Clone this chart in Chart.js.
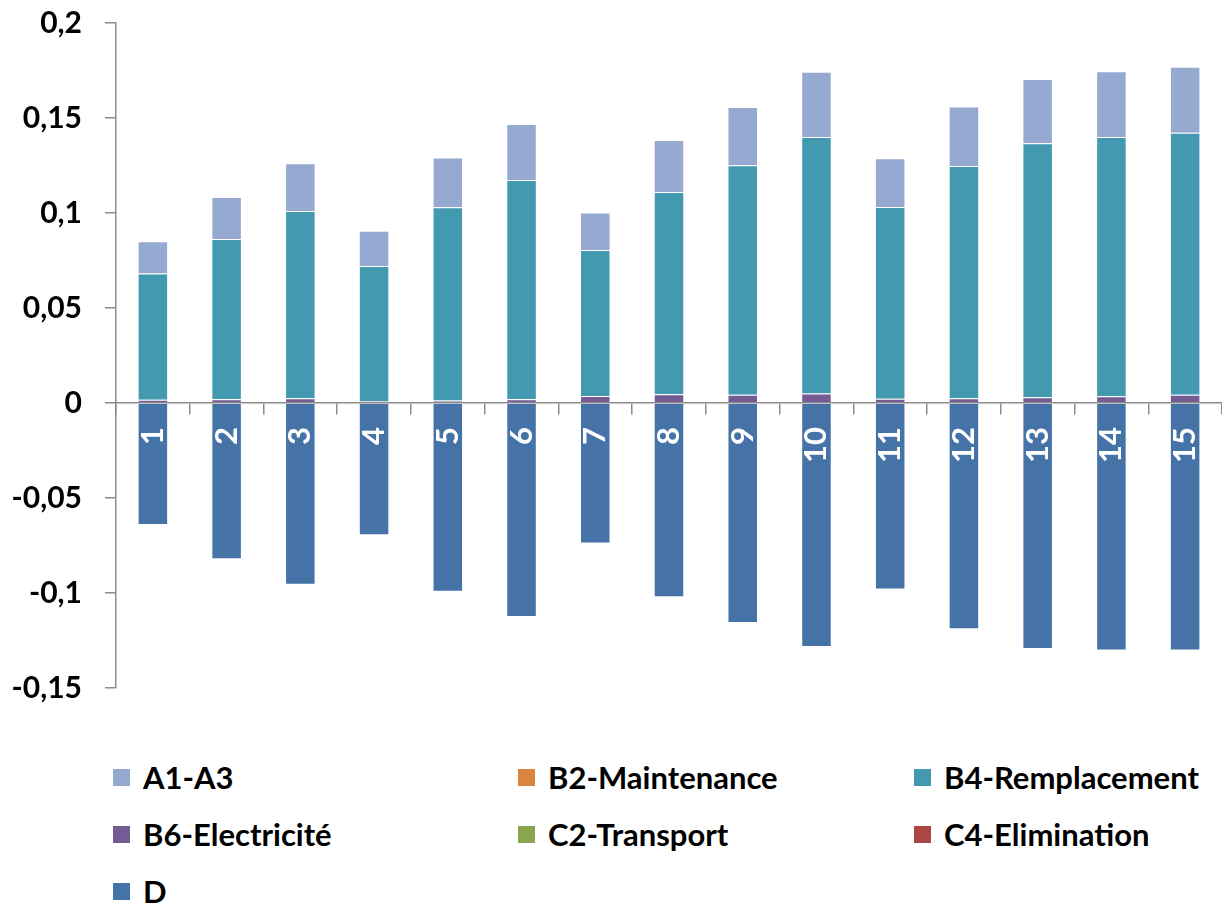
<!DOCTYPE html>
<html>
<head>
<meta charset="utf-8">
<script src="https://cdn.jsdelivr.net/npm/chart.js@4.4.0/dist/chart.umd.min.js"></script>
<style>
  html, body { margin: 0; padding: 0; background: #fff; }
  #wrap { position: relative; width: 1222px; height: 904px; overflow: hidden; }
  #c { position: absolute; left: 0; top: 0; }
  #legend {
    position: absolute; left: 113px; top: 757px;
    display: grid; grid-template-columns: 405px 396px 300px; grid-auto-rows: 57px;
    font: bold 31px Lato, sans-serif; color: #000;
  }
  .item { display: flex; align-items: center; height: 40px; white-space: nowrap; }
  .sw { width: 17px; height: 17px; margin-right: 13px; flex: none; }
</style>
</head>
<body>
<div id="wrap">
  <canvas id="c" width="1222" height="740"></canvas>
  <div id="legend"></div>
</div>
<script>
// Categories (scenarios 1..15)
const categories = ['1','2','3','4','5','6','7','8','9','10','11','12','13','14','15'];

// Impact per life-cycle module
const a1a3         = [0.0170, 0.0221, 0.0251, 0.0186, 0.0262, 0.0294, 0.0197, 0.0273, 0.0307, 0.0344, 0.0256, 0.0313, 0.0338, 0.0346, 0.0347];
const b2Maint      = [0, 0, 0, 0, 0, 0, 0, 0, 0, 0, 0, 0, 0, 0, 0];
const b4Rempl      = [0.0664, 0.0843, 0.0986, 0.0711, 0.1017, 0.1154, 0.0768, 0.1065, 0.1207, 0.1350, 0.1009, 0.1222, 0.1337, 0.1365, 0.1379];
const b6Elec       = [0.0017, 0.0020, 0.0025, 0.0010, 0.0013, 0.0020, 0.0037, 0.0046, 0.0044, 0.0050, 0.0023, 0.0025, 0.0030, 0.0035, 0.0044];
const c2Transport  = [0, 0, 0, 0, 0, 0, 0, 0, 0, 0, 0, 0, 0, 0, 0];
const c4Elim       = [0, 0, 0, 0, 0, 0, 0, 0, 0, 0, 0, 0, 0, 0, 0];
const dBenefits    = [-0.0642, -0.0823, -0.0956, -0.0696, -0.0994, -0.1126, -0.0740, -0.1022, -0.1158, -0.1284, -0.0981, -0.1191, -0.1295, -0.1303, -0.1302];

// Y axis range
const yMin = -0.15, yMax = 0.2, yStep = 0.05;

// Series: label, data, colour; listed bottom-to-top for stacking
const series = [
  { label: 'B6-Electricité',   data: b6Elec,      color: '#745B93', legendPos: 3 },
  { label: 'C2-Transport',     data: c2Transport, color: '#89A54E', legendPos: 4 },
  { label: 'C4-Elimination',   data: c4Elim,      color: '#AA4643', legendPos: 5 },
  { label: 'B2-Maintenance',   data: b2Maint,     color: '#DB843D', legendPos: 1 },
  { label: 'B4-Remplacement',  data: b4Rempl,     color: '#4299B0', legendPos: 2 },
  { label: 'A1-A3',            data: a1a3,        color: '#95A9D1', legendPos: 0 },
  { label: 'D',                data: dBenefits,   color: '#4573A7', legendPos: 6 }
];

const fmt = v => String(Math.round(v * 100) / 100).replace('.', ',');
const axisGrey = '#8c8c8c';

// The plot area is set by the layout padding alone: axis label overhang is ignored
const noOverhang = scale => {
  scale.paddingTop = 0; scale.paddingBottom = 0;
  scale.paddingLeft = 0; scale.paddingRight = 0;
};

function draw() {
  const chart = new Chart(document.getElementById('c'), {
    type: 'bar',
    data: {
      labels: categories,
      datasets: series.map(s => ({
        label: s.label,
        data: s.data,
        backgroundColor: s.color,
        borderColor: 'rgba(255,255,255,0.35)',
        borderWidth: 1,
        categoryPercentage: 0.45,
        barPercentage: 0.92
      }))
    },
    options: {
      responsive: false,
      animation: false,
      devicePixelRatio: 1,
      layout: { padding: { left: 0, right: 0, top: 23, bottom: 52 } },
      plugins: { legend: { display: false }, tooltip: { enabled: false } },
      scales: {
        x: {
          stacked: true,
          position: { y: 0 },
          afterFit: noOverhang,
          grid: { drawOnChartArea: false, drawTicks: true, tickLength: 11, color: axisGrey, lineWidth: 1.5, offset: true },
          border: { display: true, color: axisGrey, width: 1.5, z: 1 },
          ticks: {
            color: '#fff', autoSkip: false, minRotation: 90, maxRotation: 90, padding: 13, z: 1,
            font: { family: 'Lato', weight: 'bold', size: 31 }
          }
        },
        y: {
          stacked: true,
          min: yMin, max: yMax,
          afterFit: scale => { noOverhang(scale); scale.width = 116; },
          grid: { drawOnChartArea: false, tickLength: 11, color: axisGrey, lineWidth: 1.5 },
          border: { color: axisGrey, width: 1.5 },
          ticks: {
            stepSize: yStep, padding: 23, color: '#000',
            font: { family: 'Lato', weight: 'bold', size: 30 },
            callback: v => fmt(v)
          }
        }
      }
    }
  });

  // Three-column legend underneath the plot
  const legend = document.getElementById('legend');
  chart.data.datasets
    .map((ds, i) => ({ ds, pos: series[i].legendPos }))
    .sort((a, b) => a.pos - b.pos)
    .forEach(({ ds }) => {
      const item = document.createElement('div');
      item.className = 'item';
      const sw = document.createElement('span');
      sw.className = 'sw';
      sw.style.background = ds.backgroundColor;
      const tx = document.createElement('span');
      tx.textContent = ds.label;
      item.appendChild(sw);
      item.appendChild(tx);
      legend.appendChild(item);
    });
}

Promise.all([
  document.fonts.load('bold 31px Lato'),
  document.fonts.load('bold 30px Lato')
]).then(draw, draw);
</script>
</body>
</html>
